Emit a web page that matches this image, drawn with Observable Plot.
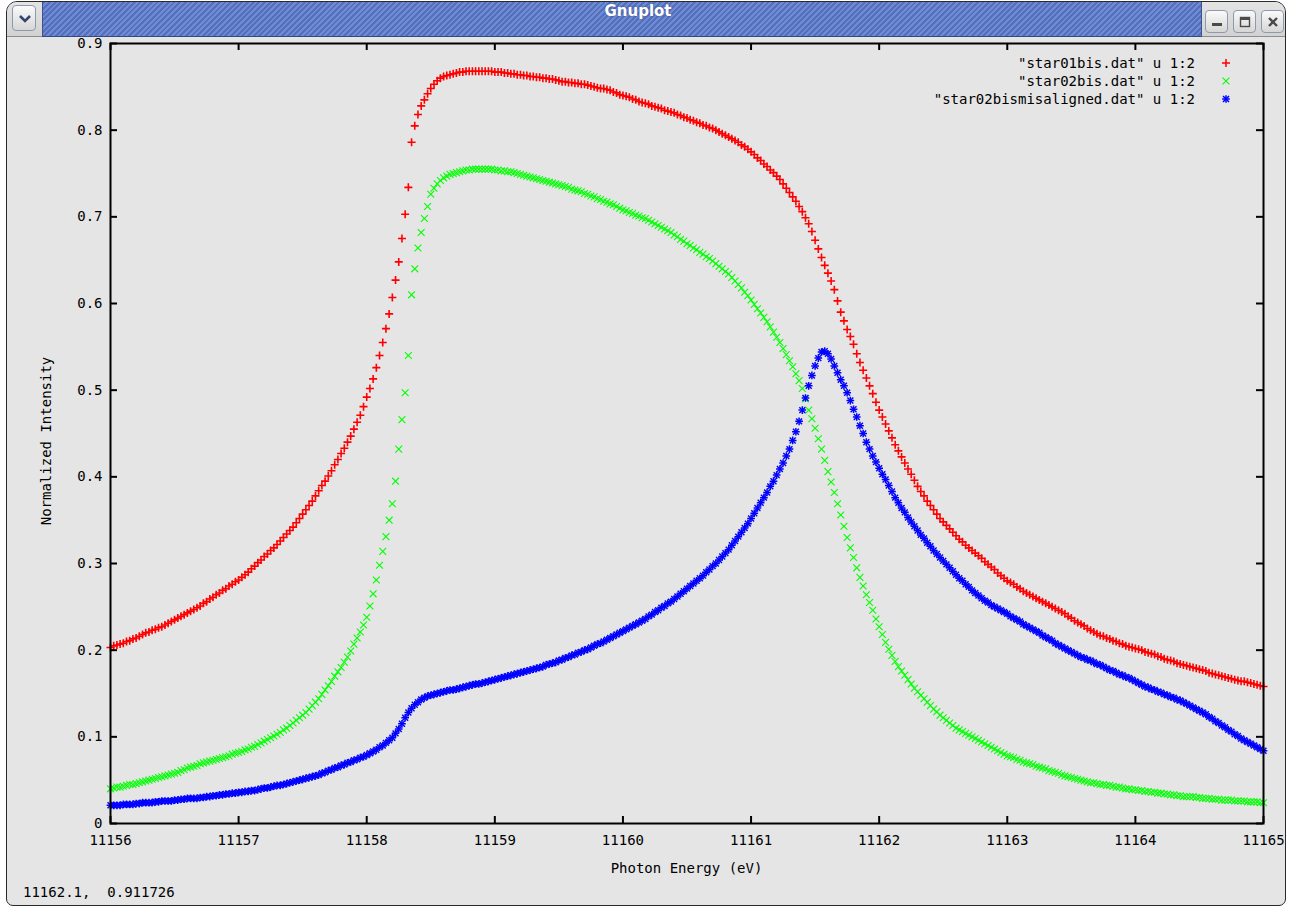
<!DOCTYPE html>
<html>
<head>
<meta charset="utf-8">
<script src="https://cdn.jsdelivr.net/npm/d3@7"></script>
<script src="https://cdn.jsdelivr.net/npm/@observablehq/plot@0.6"></script>
<style>
  html, body { margin: 0; padding: 0; width: 1292px; height: 908px; overflow: hidden; background: #ffffff; }
  body { font-family: "DejaVu Sans Mono", monospace; font-size: 14px; color: #000; }
  #win { position: absolute; left: 6px; top: 1px; width: 1278px; height: 903px; border: 1px solid #2a2a2a;
         border-radius: 11px 11px 7px 7px; background: #e5e5e5; overflow: hidden; }
  #bar { position: absolute; left: 0; top: 0; width: 100%; height: 34px; background: linear-gradient(#e4e4e4, #d2d2d2);
         border-bottom: 1px solid #8d8d8d; }
  #stripe { position: absolute; left: 35px; top: 0; width: 1158px; height: 34px;
            background: repeating-linear-gradient(135deg, #5470bc 0px, #5470bc 2px, #6e8bd4 2px, #6e8bd4 4px);
            border-left: 1px solid #3b5290; border-right: 1px solid #3b5290; border-bottom: 1px solid #34497f; }
  #title { position: absolute; left: 16px; top: 0; width: 1158px; line-height: 34px; text-align: center;
           font: bold 15px "DejaVu Sans", sans-serif; color: #ffffff; text-shadow: 0 0 2px #3c4f86; }
  .btn { position: absolute; border: 1px solid #8f99ad; border-radius: 4px;
         background: linear-gradient(#fafafa, #d6d6d6); box-sizing: border-box; }
  .btn svg { position: absolute; left: 0; top: 0; }
  #plotbox { position: absolute; left: 0; top: 0; width: 1284px; height: 908px; overflow: hidden; z-index: 1; }
  #legend { position: absolute; top: 54px; right: 97px; text-align: right; line-height: 18px; white-space: pre; z-index: 2; }
  #keys { position: absolute; left: 1220px; top: 54px; z-index: 2; }
  #keys svg { display: block; }
  .axislabel { position: absolute; white-space: nowrap; z-index: 2; }
  #status { position: absolute; left: 16px; top: 882px; white-space: pre; }
</style>
</head>
<body>
<div id="win">
  <div id="bar">
    <div class="btn" style="left:5px; top:3px; width:24px; height:26px;">
      <svg width="24" height="26"><polyline points="7,10 12,15 17,10" fill="none" stroke="#34466f" stroke-width="2.6"/></svg>
    </div>
    <div id="stripe"><div id="title">Gnuplot</div></div>
    <div class="btn" style="left:1198px; top:8px; width:23px; height:23px;">
      <svg width="23" height="23"><rect x="6" y="12" width="10" height="3" fill="#4a4a4a"/></svg>
    </div>
    <div class="btn" style="left:1226px; top:8px; width:23px; height:23px;">
      <svg width="23" height="23"><rect x="6.5" y="6.5" width="9" height="9" fill="none" stroke="#4a4a4a" stroke-width="1.4"/><rect x="6" y="6" width="10" height="3" fill="#4a4a4a"/></svg>
    </div>
    <div class="btn" style="left:1254px; top:8px; width:23px; height:23px;">
      <svg width="23" height="23"><path d="M7,7 L15,15 M15,7 L7,15" stroke="#4a4a4a" stroke-width="2.4"/></svg>
    </div>
  </div>
  <div id="status"></div>
</div>
<div id="plotbox"></div>
<div id="legend"></div>
<div id="keys"></div>
<div class="axislabel" id="xlabel"></div>
<div class="axislabel" id="ylabel"></div>

<script>
// Photon energy grid (eV) shared by the three scans, one row per eV
const energy = [
  11156, 11156.025, 11156.05, 11156.075, 11156.1, 11156.125, 11156.15, 11156.175, 11156.2, 11156.225, 11156.25, 11156.275, 11156.3, 11156.325, 11156.35, 11156.375, 11156.4, 11156.425, 11156.45, 11156.475,
  11156.5, 11156.525, 11156.55, 11156.575, 11156.6, 11156.625, 11156.65, 11156.675, 11156.7, 11156.725, 11156.75, 11156.775, 11156.8, 11156.825, 11156.85, 11156.875, 11156.9, 11156.925, 11156.95, 11156.975,
  11157, 11157.025, 11157.05, 11157.075, 11157.1, 11157.125, 11157.15, 11157.175, 11157.2, 11157.225, 11157.25, 11157.275, 11157.3, 11157.325, 11157.35, 11157.375, 11157.4, 11157.425, 11157.45, 11157.475,
  11157.5, 11157.525, 11157.55, 11157.575, 11157.6, 11157.625, 11157.65, 11157.675, 11157.7, 11157.725, 11157.75, 11157.775, 11157.8, 11157.825, 11157.85, 11157.875, 11157.9, 11157.925, 11157.95, 11157.975,
  11158, 11158.025, 11158.05, 11158.075, 11158.1, 11158.125, 11158.15, 11158.175, 11158.2, 11158.225, 11158.25, 11158.275, 11158.3, 11158.325, 11158.35, 11158.375, 11158.4, 11158.425, 11158.45, 11158.475,
  11158.5, 11158.525, 11158.55, 11158.575, 11158.6, 11158.625, 11158.65, 11158.675, 11158.7, 11158.725, 11158.75, 11158.775, 11158.8, 11158.825, 11158.85, 11158.875, 11158.9, 11158.925, 11158.95, 11158.975,
  11159, 11159.025, 11159.05, 11159.075, 11159.1, 11159.125, 11159.15, 11159.175, 11159.2, 11159.225, 11159.25, 11159.275, 11159.3, 11159.325, 11159.35, 11159.375, 11159.4, 11159.425, 11159.45, 11159.475,
  11159.5, 11159.525, 11159.55, 11159.575, 11159.6, 11159.625, 11159.65, 11159.675, 11159.7, 11159.725, 11159.75, 11159.775, 11159.8, 11159.825, 11159.85, 11159.875, 11159.9, 11159.925, 11159.95, 11159.975,
  11160, 11160.025, 11160.05, 11160.075, 11160.1, 11160.125, 11160.15, 11160.175, 11160.2, 11160.225, 11160.25, 11160.275, 11160.3, 11160.325, 11160.35, 11160.375, 11160.4, 11160.425, 11160.45, 11160.475,
  11160.5, 11160.525, 11160.55, 11160.575, 11160.6, 11160.625, 11160.65, 11160.675, 11160.7, 11160.725, 11160.75, 11160.775, 11160.8, 11160.825, 11160.85, 11160.875, 11160.9, 11160.925, 11160.95, 11160.975,
  11161, 11161.025, 11161.05, 11161.075, 11161.1, 11161.125, 11161.15, 11161.175, 11161.2, 11161.225, 11161.25, 11161.275, 11161.3, 11161.325, 11161.35, 11161.375, 11161.4, 11161.425, 11161.45, 11161.475,
  11161.5, 11161.525, 11161.55, 11161.575, 11161.6, 11161.625, 11161.65, 11161.675, 11161.7, 11161.725, 11161.75, 11161.775, 11161.8, 11161.825, 11161.85, 11161.875, 11161.9, 11161.925, 11161.95, 11161.975,
  11162, 11162.025, 11162.05, 11162.075, 11162.1, 11162.125, 11162.15, 11162.175, 11162.2, 11162.225, 11162.25, 11162.275, 11162.3, 11162.325, 11162.35, 11162.375, 11162.4, 11162.425, 11162.45, 11162.475,
  11162.5, 11162.525, 11162.55, 11162.575, 11162.6, 11162.625, 11162.65, 11162.675, 11162.7, 11162.725, 11162.75, 11162.775, 11162.8, 11162.825, 11162.85, 11162.875, 11162.9, 11162.925, 11162.95, 11162.975,
  11163, 11163.025, 11163.05, 11163.075, 11163.1, 11163.125, 11163.15, 11163.175, 11163.2, 11163.225, 11163.25, 11163.275, 11163.3, 11163.325, 11163.35, 11163.375, 11163.4, 11163.425, 11163.45, 11163.475,
  11163.5, 11163.525, 11163.55, 11163.575, 11163.6, 11163.625, 11163.65, 11163.675, 11163.7, 11163.725, 11163.75, 11163.775, 11163.8, 11163.825, 11163.85, 11163.875, 11163.9, 11163.925, 11163.95, 11163.975,
  11164, 11164.025, 11164.05, 11164.075, 11164.1, 11164.125, 11164.15, 11164.175, 11164.2, 11164.225, 11164.25, 11164.275, 11164.3, 11164.325, 11164.35, 11164.375, 11164.4, 11164.425, 11164.45, 11164.475,
  11164.5, 11164.525, 11164.55, 11164.575, 11164.6, 11164.625, 11164.65, 11164.675, 11164.7, 11164.725, 11164.75, 11164.775, 11164.8, 11164.825, 11164.85, 11164.875, 11164.9, 11164.925, 11164.95, 11164.975,
  11165
];

// "star01bis.dat" u 1:2
const star01bis = [
  0.203,0.205,0.206,0.207,0.208,0.210,0.211,0.213,0.214,0.216,0.218,0.220,0.221,0.223,0.224,0.226,0.227,0.229,0.231,0.233,
  0.235,0.237,0.239,0.241,0.243,0.245,0.247,0.249,0.251,0.254,0.256,0.259,0.261,0.264,0.266,0.269,0.271,0.274,0.276,0.279,
  0.281,0.284,0.287,0.290,0.294,0.297,0.301,0.304,0.308,0.311,0.315,0.318,0.322,0.326,0.330,0.334,0.338,0.342,0.347,0.352,
  0.357,0.362,0.367,0.372,0.378,0.384,0.390,0.395,0.401,0.407,0.414,0.420,0.427,0.433,0.440,0.447,0.455,0.463,0.471,0.481,
  0.492,0.502,0.513,0.526,0.540,0.555,0.571,0.588,0.607,0.627,0.648,0.675,0.703,0.734,0.786,0.805,0.818,0.828,0.835,0.842,
  0.848,0.853,0.857,0.860,0.862,0.863,0.864,0.865,0.866,0.867,0.867,0.868,0.868,0.868,0.868,0.868,0.868,0.868,0.868,0.868,
  0.867,0.867,0.867,0.866,0.866,0.865,0.865,0.864,0.864,0.863,0.863,0.862,0.862,0.861,0.861,0.860,0.860,0.859,0.859,0.858,
  0.857,0.856,0.856,0.855,0.855,0.854,0.854,0.853,0.853,0.852,0.851,0.850,0.849,0.848,0.848,0.847,0.846,0.844,0.843,0.841,
  0.840,0.839,0.838,0.836,0.835,0.833,0.832,0.831,0.830,0.828,0.827,0.826,0.825,0.823,0.822,0.821,0.820,0.818,0.817,0.815,
  0.814,0.812,0.811,0.809,0.808,0.806,0.805,0.803,0.802,0.800,0.798,0.796,0.794,0.792,0.790,0.788,0.786,0.783,0.781,0.778,
  0.775,0.772,0.768,0.765,0.761,0.758,0.754,0.751,0.747,0.743,0.738,0.733,0.728,0.723,0.718,0.712,0.706,0.699,0.692,0.683,
  0.673,0.663,0.653,0.644,0.635,0.626,0.616,0.603,0.590,0.580,0.570,0.562,0.553,0.542,0.532,0.523,0.514,0.505,0.496,0.486,
  0.477,0.469,0.461,0.453,0.445,0.437,0.430,0.423,0.416,0.409,0.403,0.396,0.389,0.383,0.378,0.372,0.367,0.362,0.357,0.352,
  0.348,0.344,0.340,0.336,0.332,0.328,0.325,0.321,0.318,0.315,0.312,0.309,0.306,0.302,0.299,0.296,0.293,0.289,0.286,0.283,
  0.280,0.278,0.276,0.273,0.271,0.268,0.266,0.264,0.262,0.260,0.258,0.256,0.254,0.252,0.250,0.248,0.246,0.244,0.242,0.239,
  0.237,0.234,0.232,0.230,0.228,0.225,0.223,0.221,0.219,0.217,0.216,0.214,0.213,0.211,0.210,0.208,0.207,0.205,0.204,0.203,
  0.202,0.201,0.200,0.198,0.197,0.196,0.195,0.193,0.192,0.190,0.189,0.188,0.187,0.185,0.184,0.183,0.182,0.181,0.180,0.179,
  0.178,0.177,0.176,0.174,0.173,0.172,0.171,0.170,0.169,0.168,0.167,0.166,0.165,0.164,0.164,0.163,0.162,0.161,0.160,0.159,
  0.158
];

// "star02bis.dat" u 1:2
const star02bis = [
  0.040,0.041,0.042,0.042,0.043,0.044,0.045,0.045,0.046,0.047,0.048,0.049,0.050,0.051,0.052,0.053,0.054,0.055,0.056,0.057,
  0.058,0.059,0.061,0.062,0.064,0.065,0.066,0.067,0.069,0.070,0.071,0.072,0.073,0.074,0.075,0.076,0.077,0.078,0.080,0.081,
  0.082,0.083,0.085,0.086,0.088,0.089,0.091,0.093,0.095,0.097,0.099,0.101,0.103,0.105,0.108,0.110,0.113,0.116,0.119,0.122,
  0.125,0.128,0.132,0.136,0.140,0.144,0.149,0.154,0.159,0.164,0.170,0.175,0.180,0.186,0.192,0.199,0.207,0.214,0.221,0.229,
  0.238,0.251,0.265,0.281,0.298,0.314,0.331,0.350,0.369,0.395,0.432,0.466,0.497,0.540,0.610,0.640,0.664,0.682,0.698,0.712,
  0.726,0.733,0.738,0.742,0.745,0.747,0.749,0.750,0.751,0.752,0.753,0.754,0.754,0.755,0.755,0.755,0.755,0.755,0.755,0.755,
  0.754,0.754,0.753,0.753,0.752,0.752,0.751,0.750,0.749,0.748,0.747,0.746,0.745,0.744,0.743,0.742,0.741,0.740,0.739,0.738,
  0.737,0.736,0.735,0.734,0.732,0.731,0.730,0.729,0.727,0.726,0.724,0.723,0.721,0.720,0.718,0.717,0.715,0.714,0.712,0.710,
  0.708,0.707,0.705,0.704,0.702,0.701,0.699,0.698,0.696,0.694,0.692,0.690,0.688,0.686,0.684,0.682,0.679,0.677,0.674,0.672,
  0.669,0.667,0.664,0.662,0.659,0.657,0.654,0.652,0.649,0.646,0.643,0.640,0.637,0.634,0.630,0.626,0.622,0.618,0.613,0.609,
  0.604,0.599,0.594,0.589,0.584,0.579,0.573,0.567,0.561,0.555,0.548,0.541,0.534,0.527,0.519,0.511,0.502,0.490,0.477,0.467,
  0.456,0.444,0.432,0.419,0.406,0.394,0.382,0.369,0.356,0.343,0.330,0.318,0.307,0.295,0.284,0.274,0.264,0.255,0.246,0.236,
  0.227,0.218,0.209,0.201,0.194,0.187,0.181,0.176,0.171,0.166,0.161,0.156,0.152,0.148,0.144,0.140,0.136,0.132,0.129,0.125,
  0.122,0.119,0.116,0.113,0.110,0.108,0.106,0.104,0.102,0.100,0.098,0.096,0.094,0.092,0.090,0.088,0.086,0.084,0.082,0.080,
  0.078,0.077,0.076,0.074,0.073,0.071,0.070,0.069,0.068,0.066,0.065,0.064,0.063,0.061,0.060,0.059,0.058,0.056,0.055,0.054,
  0.053,0.052,0.051,0.050,0.049,0.048,0.047,0.047,0.046,0.045,0.045,0.044,0.044,0.043,0.042,0.042,0.041,0.040,0.040,0.039,
  0.039,0.038,0.038,0.037,0.037,0.036,0.036,0.035,0.035,0.034,0.034,0.033,0.033,0.032,0.032,0.031,0.031,0.031,0.031,0.030,
  0.030,0.029,0.029,0.029,0.028,0.028,0.028,0.027,0.027,0.027,0.027,0.026,0.026,0.026,0.026,0.025,0.025,0.025,0.025,0.024,
  0.024
];

// "star02bismisaligned.dat" u 1:2
const star02bismisaligned = [
  0.021,0.021,0.021,0.021,0.022,0.022,0.022,0.022,0.023,0.023,0.024,0.024,0.024,0.024,0.025,0.025,0.026,0.026,0.026,0.026,
  0.027,0.027,0.028,0.028,0.029,0.029,0.029,0.029,0.030,0.030,0.031,0.031,0.032,0.032,0.033,0.033,0.034,0.034,0.035,0.035,
  0.036,0.036,0.037,0.037,0.038,0.038,0.039,0.040,0.041,0.041,0.042,0.043,0.044,0.044,0.045,0.046,0.047,0.048,0.049,0.050,
  0.051,0.052,0.053,0.054,0.055,0.056,0.058,0.059,0.061,0.062,0.064,0.065,0.067,0.068,0.070,0.071,0.073,0.074,0.076,0.077,
  0.079,0.081,0.083,0.085,0.088,0.090,0.093,0.096,0.099,0.104,0.109,0.115,0.122,0.128,0.133,0.137,0.140,0.143,0.145,0.147,
  0.148,0.149,0.150,0.151,0.152,0.153,0.154,0.154,0.155,0.156,0.157,0.158,0.159,0.160,0.161,0.161,0.162,0.163,0.164,0.165,
  0.166,0.167,0.168,0.169,0.170,0.171,0.172,0.173,0.174,0.175,0.176,0.177,0.178,0.179,0.180,0.181,0.183,0.184,0.185,0.186,
  0.188,0.189,0.191,0.192,0.194,0.195,0.197,0.198,0.200,0.201,0.203,0.205,0.207,0.208,0.210,0.212,0.214,0.216,0.218,0.220,
  0.222,0.224,0.226,0.228,0.230,0.232,0.234,0.236,0.239,0.241,0.244,0.246,0.249,0.251,0.254,0.256,0.259,0.262,0.265,0.268,
  0.271,0.274,0.277,0.280,0.283,0.286,0.290,0.293,0.297,0.300,0.304,0.308,0.312,0.316,0.321,0.326,0.331,0.336,0.341,0.346,
  0.352,0.358,0.364,0.370,0.376,0.382,0.389,0.395,0.402,0.409,0.416,0.424,0.432,0.442,0.452,0.464,0.477,0.491,0.505,0.517,
  0.528,0.537,0.544,0.545,0.542,0.536,0.528,0.520,0.512,0.505,0.497,0.488,0.478,0.469,0.459,0.450,0.440,0.432,0.424,0.417,
  0.410,0.403,0.397,0.390,0.383,0.376,0.370,0.364,0.359,0.353,0.348,0.343,0.338,0.333,0.329,0.324,0.320,0.315,0.311,0.307,
  0.303,0.299,0.295,0.291,0.287,0.283,0.280,0.276,0.273,0.269,0.266,0.263,0.260,0.257,0.255,0.252,0.250,0.248,0.246,0.244,
  0.242,0.239,0.237,0.235,0.233,0.230,0.228,0.226,0.224,0.222,0.220,0.217,0.215,0.213,0.211,0.208,0.206,0.204,0.202,0.200,
  0.198,0.196,0.194,0.192,0.191,0.189,0.188,0.186,0.184,0.183,0.181,0.179,0.177,0.176,0.174,0.172,0.171,0.169,0.168,0.166,
  0.164,0.162,0.160,0.158,0.157,0.155,0.154,0.152,0.151,0.149,0.148,0.146,0.145,0.143,0.142,0.140,0.138,0.136,0.134,0.132,
  0.130,0.128,0.126,0.123,0.121,0.118,0.116,0.113,0.111,0.108,0.106,0.103,0.101,0.098,0.096,0.094,0.092,0.090,0.088,0.086,
  0.084
];

const seriesNames = ['"star01bis.dat" u 1:2', '"star02bis.dat" u 1:2', '"star02bismisaligned.dat" u 1:2'];
const seriesColors = ["#ff0000", "#00ff00", "#0000ff"];
const xTicks = [11156, 11157, 11158, 11159, 11160, 11161, 11162, 11163, 11164, 11165];
const yTicks = [0, 0.1, 0.2, 0.3, 0.4, 0.5, 0.6, 0.7, 0.8, 0.9];
const xLabel = "Photon Energy (eV)";
const yLabel = "Normalized Intensity";
const statusText = "11162.1,  0.911726";

// gnuplot point types: 1 = plus, 2 = cross, 3 = star (plus and cross overlaid)
const toRows = values => energy.map((e, i) => ({e, v: values[i]}));
const s1 = toRows(star01bis), s2 = toRows(star02bis), s3 = toRows(star02bismisaligned);

const W = 1292, H = 908, mL = 110, mR = 29, mT = 43, mB = 85;
const innerW = W - mL - mR, innerH = H - mT - mB, tick = 7;

const chart = Plot.plot({
  width: W, height: H,
  marginLeft: mL, marginRight: mR, marginTop: mT, marginBottom: mB,
  style: {background: "transparent", fontFamily: "DejaVu Sans Mono", fontSize: "14px", color: "#000",
          overflow: "visible", maxWidth: "none"},
  x: {domain: [11156, 11165]},
  y: {domain: [0, 0.9]},
  marks: [
    Plot.dot(s1, {x: "e", y: "v", symbol: "plus", r: 2.7, stroke: seriesColors[0], strokeWidth: 1.6}),
    Plot.dot(s2, {x: "e", y: "v", symbol: "times", r: 3.2, stroke: seriesColors[1], strokeWidth: 1.1}),
    Plot.dot(s3, {x: "e", y: "v", symbol: "plus", r: 2.6, stroke: seriesColors[2], strokeWidth: 1.5}),
    Plot.dot(s3, {x: "e", y: "v", symbol: "times", r: 2.8, stroke: seriesColors[2], strokeWidth: 1.4}),
    // inward ticks on all four sides of the border
    Plot.ruleX(xTicks, {x: d => d, insetTop: innerH - tick, strokeWidth: 2}),
    Plot.ruleX(xTicks, {x: d => d, insetBottom: innerH - tick, strokeWidth: 2}),
    Plot.ruleY(yTicks, {y: d => d, insetRight: innerW - tick, strokeWidth: 2}),
    Plot.ruleY(yTicks, {y: d => d, insetLeft: innerW - tick, strokeWidth: 2}),
    Plot.frame({stroke: "#000", strokeWidth: 2}),
    Plot.axisX({ticks: xTicks, tickSize: 0, tickPadding: 12, tickFormat: d => String(d), label: null}),
    Plot.axisY({ticks: yTicks, tickSize: 0, tickPadding: 8, tickFormat: d => String(d), label: null})
  ]
});
document.getElementById("plotbox").appendChild(chart);

// key in the upper right corner: title text followed by its point symbol
const legend = document.getElementById("legend");
legend.textContent = seriesNames.join("\n");
const keys = d3.select("#keys");
const keySymbols = [[d3.symbolPlus], [d3.symbolTimes], [d3.symbolPlus, d3.symbolTimes]];
const keySizes = [[23], [32], [21, 25]];
keySymbols.forEach((syms, i) => {
  const svg = keys.append("svg").attr("width", 14).attr("height", 18);
  syms.forEach((s, j) => {
    svg.append("path")
      .attr("transform", "translate(6,9)")
      .attr("d", d3.symbol(s, keySizes[i][j])())
      .attr("fill", "none")
      .attr("stroke", seriesColors[i])
      .attr("stroke-width", i === 1 ? 1.1 : 1.5);
  });
});

// axis titles
const xl = document.getElementById("xlabel");
xl.textContent = xLabel;
xl.style.left = (mL + innerW / 2) + "px";
xl.style.top = "868px";
xl.style.transform = "translate(-50%, -50%)";
const yl = document.getElementById("ylabel");
yl.textContent = yLabel;
yl.style.left = "46px";
yl.style.top = "441px";
yl.style.transform = "translate(-50%, -50%) rotate(-90deg)";

document.getElementById("status").textContent = statusText;
</script>
</body>
</html>
